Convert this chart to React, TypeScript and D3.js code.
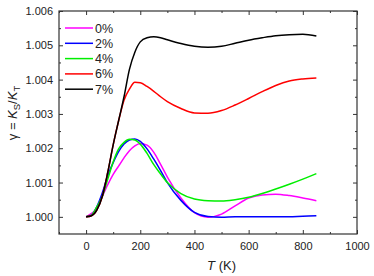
import React, { useEffect, useRef } from 'react';
import * as d3 from 'd3';

const temps = [0, 20, 40, 60, 80, 100, 120, 140, 160, 180, 200, 225, 250, 275, 300, 350, 400, 450, 500, 550, 600, 650, 700, 750, 800, 850];

const gamma0 = [1.0, 1.0001, 1.00025, 1.0006, 1.00094, 1.00124, 1.00148, 1.00172, 1.00193, 1.00207, 1.00214, 1.00209, 1.00188, 1.00153, 1.00116, 1.00055, 1.00012, 0.99999, 1.00008, 1.00032, 1.00055, 1.00064, 1.00066, 1.00062, 1.00055, 1.00047];
const gamma2 = [1.0, 1.00005, 1.0003, 1.0007, 1.0012, 1.00158, 1.0019, 1.00212, 1.00224, 1.00227, 1.0022, 1.00198, 1.00168, 1.00135, 1.001, 1.00048, 1.00013, 1.00001, 0.99999, 1.0, 1.0, 1.0, 1.0, 1.0, 1.00002, 1.00003];
const gamma4 = [1.0, 1.00005, 1.0003, 1.0006, 1.0011, 1.0016, 1.00198, 1.00217, 1.00226, 1.00224, 1.00212, 1.00185, 1.00152, 1.00125, 1.001, 1.00068, 1.00052, 1.00047, 1.00046, 1.0005, 1.00057, 1.00068, 1.00081, 1.00095, 1.0011, 1.00126];
const gamma6 = [1.0, 1.00003, 1.0002, 1.0006, 1.0013, 1.0021, 1.0028, 1.0034, 1.00372, 1.00392, 1.00391, 1.0038, 1.00366, 1.0035, 1.00336, 1.00316, 1.00303, 1.00302, 1.0031, 1.00326, 1.00345, 1.00365, 1.00383, 1.00396, 1.00402, 1.00405];
const gamma7 = [1.0, 1.00003, 1.0002, 1.0006, 1.0013, 1.0021, 1.0028, 1.0035, 1.0043, 1.0048, 1.0051, 1.00522, 1.00525, 1.00522, 1.00516, 1.00505, 1.00497, 1.00494, 1.00497, 1.00506, 1.00515, 1.00522, 1.00528, 1.00531, 1.00532, 1.00527];

const labels = ['0%', '2%', '4%', '6%', '7%'];
const colors = ['#ff00ff', '#0000ff', '#00ee00', '#ff0000', '#000000'];
const seriesValues = [gamma0, gamma2, gamma4, gamma6, gamma7];

const xMajor = [0, 200, 400, 600, 800, 1000];
const xMinor = [-100, 100, 300, 500, 700, 900];
const yMajor = [1.0, 1.001, 1.002, 1.003, 1.004, 1.005, 1.006];
const yMinor = [1.0005, 1.0015, 1.0025, 1.0035, 1.0045, 1.0055];

const App = () => {
  const svgRef = useRef(null);

  useEffect(() => {
    const width = 374;
    const height = 276;
    const m = { left: 59, right: 17, top: 11, bottom: 42 };
    const w = width - m.left - m.right;
    const h = height - m.top - m.bottom;

    const svg = d3.select(svgRef.current)
      .attr('width', width)
      .attr('height', height);
    svg.selectAll('*').remove();

    const g = svg.append('g').attr('transform', `translate(${m.left},${m.top})`);

    const x = d3.scaleLinear().domain([-100, 1000]).range([0, w]);
    const y = d3.scaleLinear().domain([0.9995, 1.006]).range([h, 0]);

    const font = 'Liberation Sans, Arial, sans-serif';
    const frame = '#333';

    const styleAxis = (sel) => {
      sel.select('.domain').remove();
      sel.selectAll('line').attr('stroke', frame);
      sel.selectAll('text')
        .attr('font-family', font)
        .attr('font-size', 11)
        .attr('fill', '#222');
    };

    // bottom
    g.append('g').attr('transform', `translate(0,${h})`)
      .call(d3.axisBottom(x).tickValues(xMajor).tickSize(-4).tickPadding(8).tickFormat(d3.format('d')))
      .call(styleAxis);
    g.append('g').attr('transform', `translate(0,${h})`)
      .call(d3.axisBottom(x).tickValues(xMinor).tickSize(-2).tickFormat(() => ''))
      .call(styleAxis);
    // top
    g.append('g')
      .call(d3.axisTop(x).tickValues(xMajor).tickSize(-4).tickFormat(() => ''))
      .call(styleAxis);
    g.append('g')
      .call(d3.axisTop(x).tickValues(xMinor).tickSize(-2).tickFormat(() => ''))
      .call(styleAxis);
    // left
    g.append('g')
      .call(d3.axisLeft(y).tickValues(yMajor).tickSize(-4).tickPadding(6).tickFormat(d3.format('.3f')))
      .call(styleAxis);
    g.append('g')
      .call(d3.axisLeft(y).tickValues(yMinor).tickSize(-2).tickFormat(() => ''))
      .call(styleAxis);
    // right
    g.append('g').attr('transform', `translate(${w},0)`)
      .call(d3.axisRight(y).tickValues(yMajor).tickSize(-4).tickFormat(() => ''))
      .call(styleAxis);
    g.append('g').attr('transform', `translate(${w},0)`)
      .call(d3.axisRight(y).tickValues(yMinor).tickSize(-2).tickFormat(() => ''))
      .call(styleAxis);

    g.append('rect')
      .attr('width', w)
      .attr('height', h)
      .attr('fill', 'none')
      .attr('stroke', frame)
      .attr('stroke-width', 1.2);

    const line = d3.line()
      .x((d) => x(d[0]))
      .y((d) => y(d[1]))
      .curve(d3.curveMonotoneX);

    seriesValues.forEach((vals, i) => {
      g.append('path')
        .datum(temps.map((t, j) => [t, vals[j]]))
        .attr('d', line)
        .attr('fill', 'none')
        .attr('stroke', colors[i])
        .attr('stroke-width', 1.5);
    });

    // legend
    const legend = g.append('g').attr('transform', 'translate(6,17)');
    labels.forEach((lab, i) => {
      const row = legend.append('g').attr('transform', `translate(0,${i * 15.3})`);
      row.append('line')
        .attr('x1', 0).attr('x2', 28)
        .attr('stroke', colors[i])
        .attr('stroke-width', 1.5);
      row.append('text')
        .attr('x', 30)
        .attr('dy', '0.36em')
        .attr('font-family', font)
        .attr('font-size', 12.5)
        .attr('fill', '#222')
        .text(lab);
    });

    // axis titles
    const xt = svg.append('text')
      .attr('x', m.left + x(500))
      .attr('y', 270)
      .attr('text-anchor', 'middle')
      .attr('font-family', font)
      .attr('font-size', 13)
      .attr('fill', '#222');
    xt.append('tspan').attr('font-style', 'italic').text('T');
    xt.append('tspan').text(' (K)');

    const yt = svg.append('text')
      .attr('transform', 'translate(17,113) rotate(-90)')
      .attr('text-anchor', 'middle')
      .attr('font-family', font)
      .attr('font-size', 13)
      .attr('fill', '#222');
    yt.append('tspan').text('\u03b3 = ');
    yt.append('tspan').attr('font-style', 'italic').text('K');
    yt.append('tspan').attr('font-size', 9.5).attr('dy', 3).text('S');
    yt.append('tspan').attr('dy', -3).text('/');
    yt.append('tspan').attr('font-style', 'italic').text('K');
    yt.append('tspan').attr('font-size', 9.5).attr('dy', 3).text('T');
  }, []);

  return (
    <svg ref={svgRef} style={{ position: 'absolute', left: 0, top: 0 }}></svg>
  );
};

export default App;
